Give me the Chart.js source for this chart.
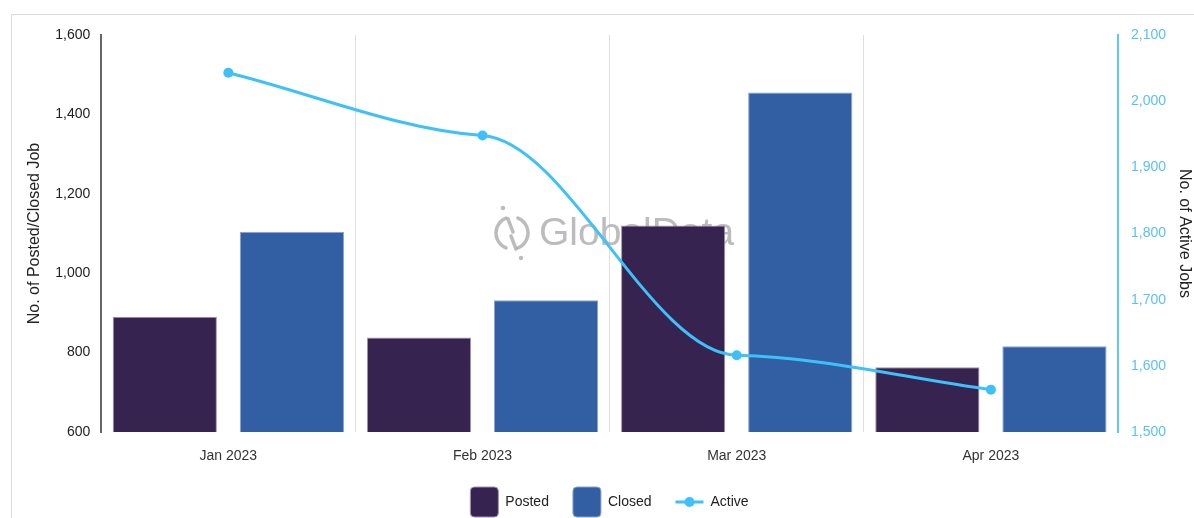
<!DOCTYPE html>
<html><head><meta charset="utf-8">
<script src="https://cdn.jsdelivr.net/npm/chart.js@4"></script>
<style>
html,body{margin:0;padding:0;background:#fff;overflow:hidden;width:1194px;height:518px}
#frame{position:absolute;left:11px;top:14px;right:0;bottom:0;border-top:1px solid #dcdcdc;border-left:1px solid #dcdcdc}
#wrap{position:absolute;left:0;top:0;width:1194px;height:527px}
</style></head><body>
<div id="frame"></div>
<div id="wrap"><canvas id="c"></canvas></div>
<script>
const months = ['Jan 2023', 'Feb 2023', 'Mar 2023', 'Apr 2023'];
const posted = [890, 838, 1120, 763];
const closed = [1104, 932, 1455, 816];
const active = [2043, 1948, 1616, 1564];
const leftTicks = [600, 800, 1000, 1200, 1400, 1600];
const rightTicks = [1500, 1600, 1700, 1800, 1900, 2000, 2100];

const FONT = '"Liberation Sans", Arial, sans-serif';
const POSTED = '#36234f';
const CLOSED = '#325ea3';
const ACTIVE = '#3ec1fb';

// faint brand mark behind the bars
const watermark = {
  id: 'watermark',
  beforeDatasetsDraw(chart) {
    const ctx = chart.ctx;
    const cx = 512, cy = 233;
    ctx.save();
    ctx.strokeStyle = 'rgba(165,165,170,0.75)';
    ctx.fillStyle = 'rgba(165,165,170,0.75)';
    ctx.lineWidth = 3.5;
    ctx.lineCap = 'round';
    ctx.beginPath();
    ctx.arc(cx, cy, 16, Math.PI * 0.62, Math.PI * 1.38);
    ctx.stroke();
    ctx.beginPath();
    ctx.arc(cx, cy, 16, -Math.PI * 0.38, Math.PI * 0.38);
    ctx.stroke();
    ctx.beginPath();
    ctx.moveTo(cx - 4, cy - 14); ctx.lineTo(cx + 1, cy - 1);
    ctx.moveTo(cx - 1, cy + 3); ctx.lineTo(cx + 4, cy + 16);
    ctx.stroke();
    ctx.beginPath(); ctx.arc(cx - 9, cy - 25, 2.2, 0, Math.PI * 2); ctx.fill();
    ctx.beginPath(); ctx.arc(cx + 9, cy + 25, 2.2, 0, Math.PI * 2); ctx.fill();
    ctx.font = '39px ' + FONT;
    ctx.textBaseline = 'middle';
    ctx.fillText('GlobalData', 539, cy + 1);
    ctx.restore();
  }
};

// smooth line whose tangent at each inner point leans toward the gentler neighbouring segment
const dampedSpline = {
  id: 'dampedSpline',
  beforeDatasetsDraw(chart) {
    chart.data.datasets.forEach((ds, i) => {
      if (ds.type !== 'line') return;
      const meta = chart.getDatasetMeta(i);
      const line = meta.dataset;
      const pts = meta.data;
      if (!line || pts.length < 2) return;
      line.updateControlPoints(chart.chartArea, 'x');
      const n = pts.length;
      const d = [];
      for (let k = 0; k < n - 1; k++) d.push((pts[k + 1].y - pts[k].y) / (pts[k + 1].x - pts[k].x));
      const m = pts.map((p, k) => {
        if (k === 0) return d[0];
        if (k === n - 1) return d[n - 2];
        const a = d[k - 1], b = d[k];
        if (a === 0 || b === 0 || Math.sign(a) !== Math.sign(b)) return 0;
        const lo = Math.min(Math.abs(a), Math.abs(b)), hi = Math.max(Math.abs(a), Math.abs(b));
        return Math.sign(a) * lo * lo / hi;
      });
      pts.forEach((p, k) => {
        if (k > 0) {
          const dx = (p.x - pts[k - 1].x) / 3;
          p.cp1x = p.x - dx; p.cp1y = p.y - m[k] * dx;
        }
        if (k < n - 1) {
          const dx = (pts[k + 1].x - p.x) / 3;
          p.cp2x = p.x + dx; p.cp2y = p.y + m[k] * dx;
        }
      });
      line._path = undefined;
    });
  }
};

// line-with-dot symbol for the Active legend entry
const activeLegendIcon = {
  id: 'activeLegendIcon',
  afterDraw(chart) {
    const lg = chart.legend;
    if (!lg || !lg.legendHitBoxes || !lg.legendHitBoxes[2]) return;
    const hb = lg.legendHitBoxes[2];
    const bw = lg.options.labels.boxWidth;
    const y = hb.top + hb.height / 2;
    const ctx = chart.ctx;
    ctx.save();
    ctx.strokeStyle = ACTIVE;
    ctx.fillStyle = ACTIVE;
    ctx.lineWidth = 3;
    ctx.beginPath();
    ctx.moveTo(hb.left, y); ctx.lineTo(hb.left + bw, y);
    ctx.stroke();
    ctx.beginPath();
    ctx.arc(hb.left + bw / 2, y, 5, 0, Math.PI * 2);
    ctx.fill();
    ctx.restore();
  }
};

new Chart(document.getElementById('c'), {
  type: 'bar',
  data: {
    labels: months,
    datasets: [
      { type: 'line', label: 'Active', data: active, yAxisID: 'y2', order: 0,
        borderColor: ACTIVE, backgroundColor: ACTIVE, borderWidth: 3,
        pointRadius: 5, pointBackgroundColor: ACTIVE, pointBorderWidth: 0,
        cubicInterpolationMode: 'monotone', fill: false },
      { label: 'Posted', data: posted, yAxisID: 'y', order: 1,
        backgroundColor: POSTED, borderColor: '#9c95b4', borderWidth: 1,
        categoryPercentage: 1.0, barPercentage: 0.82 },
      { label: 'Closed', data: closed, yAxisID: 'y', order: 1,
        backgroundColor: CLOSED, borderColor: '#8aa3cc', borderWidth: 1,
        categoryPercentage: 1.0, barPercentage: 0.82 }
    ]
  },
  options: {
    responsive: true,
    maintainAspectRatio: false,
    animation: false,
    layout: { padding: { left: 25, right: 0, top: 35, bottom: 0 } },
    plugins: {
      tooltip: { enabled: false },
      legend: {
        position: 'bottom',
        labels: {
          font: { family: FONT, size: 14 },
          color: '#222',
          boxWidth: 28,
          boxHeight: 30,
          padding: 24,
          generateLabels(chart) {
            const order = [1, 2, 0];
            return order.map((i) => {
              const ds = chart.data.datasets[i];
              const isLine = ds.type === 'line';
              return {
                text: ds.label,
                datasetIndex: i,
                fillStyle: isLine ? 'rgba(0,0,0,0)' : ds.backgroundColor,
                strokeStyle: isLine ? 'rgba(0,0,0,0)' : ds.borderColor,
                lineWidth: isLine ? 0 : 1,
                fontColor: '#222',
                borderRadius: 4,
                hidden: false
              };
            });
          },
          useBorderRadius: true,
          borderRadius: 4
        }
      }
    },
    scales: {
      x: {
        grid: { display: true, offset: true, color: '#dedede', lineWidth: 1, drawTicks: false },
        border: { display: false },
        ticks: { font: { family: FONT, size: 14 }, color: '#333', padding: 16 },
        afterFit(scale) { scale.height = 31; }
      },
      y: {
        position: 'left',
        min: 600, max: 1600,
        afterBuildTicks(axis) { axis.ticks = leftTicks.map(v => ({ value: v })); },
        grid: { display: false, drawTicks: false },
        border: { display: true, color: '#666', width: 2 },
        ticks: { font: { family: FONT, size: 14 }, color: '#222', padding: 11 },
        title: { display: true, text: 'No. of Posted/Closed Job', font: { family: FONT, size: 16 }, color: '#222', padding: { top: 0, bottom: 0 } }
      },
      y2: {
        position: 'right',
        min: 1500, max: 2100,
        afterBuildTicks(axis) { axis.ticks = rightTicks.map(v => ({ value: v })); },
        grid: { display: false, drawTicks: false },
        border: { display: true, color: '#5cc8fb', width: 2 },
        ticks: { font: { family: FONT, size: 14 }, color: '#5bbff5', padding: 13 },
        title: { display: true, text: 'No. of Active Jobs', font: { family: FONT, size: 16 }, color: '#222', padding: { top: 0, bottom: 0 } },
        afterFit(scale) { scale.width = 76; }
      }
    }
  },
  plugins: [watermark, dampedSpline, activeLegendIcon]
});
</script>
</body></html>
